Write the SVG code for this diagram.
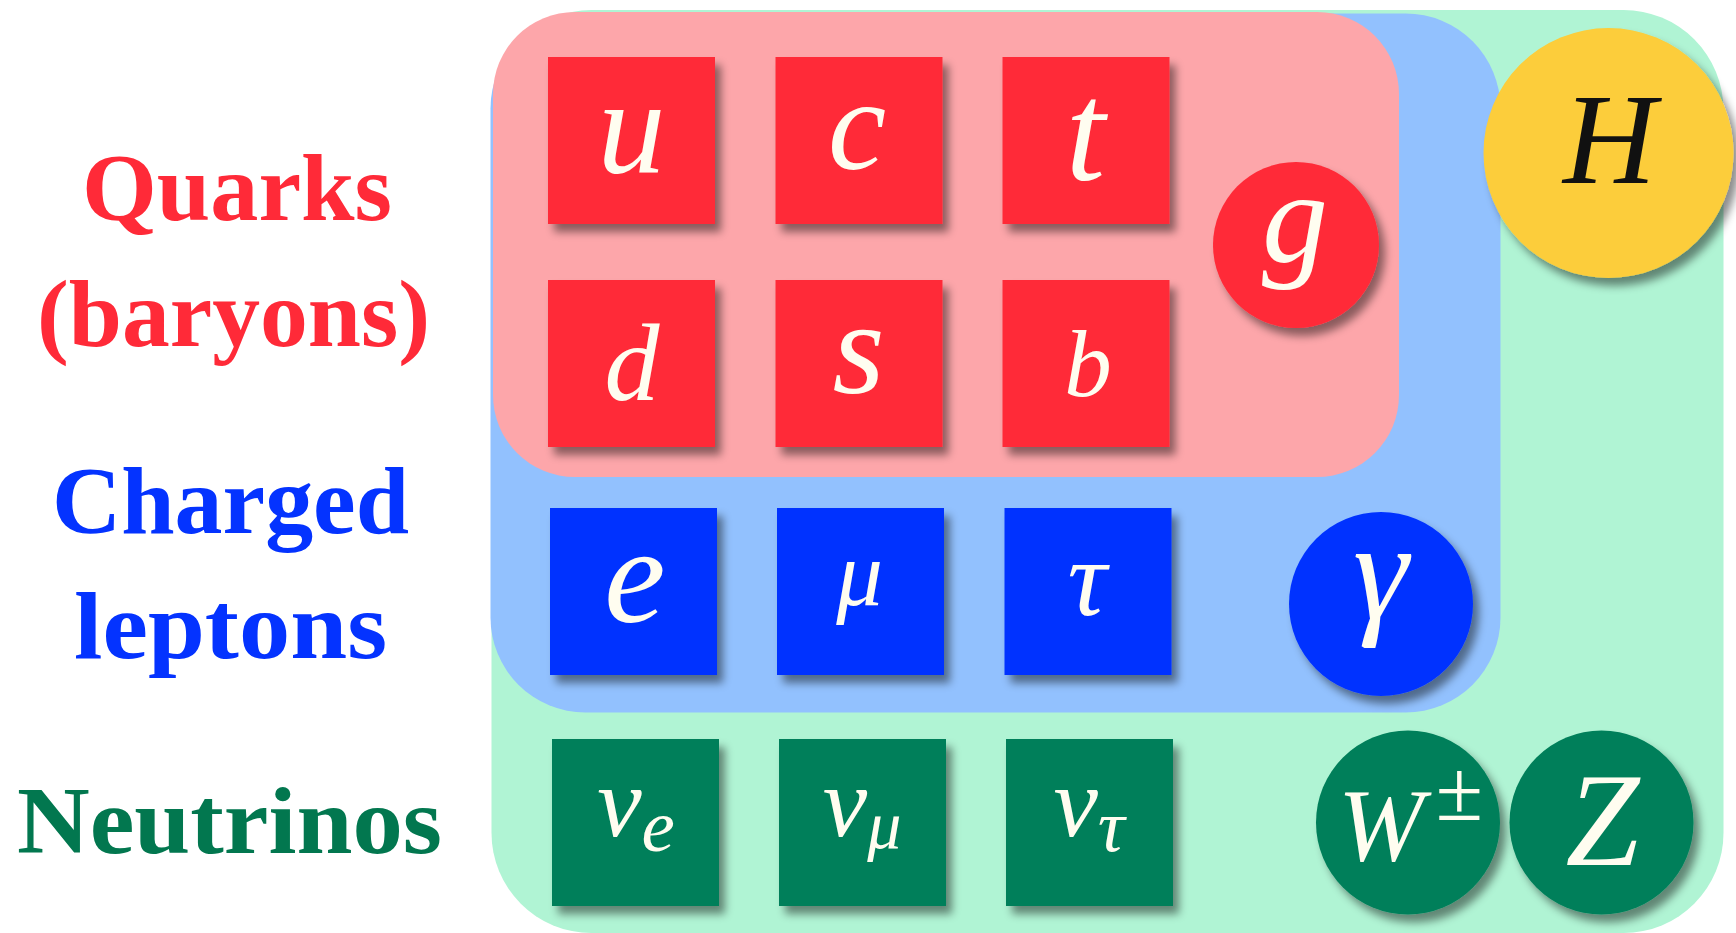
<svg xmlns="http://www.w3.org/2000/svg" width="1736" height="933" viewBox="0 0 1736 933">
<defs>
<filter id="sh" x="-20%" y="-20%" width="150%" height="150%">
<feDropShadow dx="6" dy="8" stdDeviation="4" flood-color="#000" flood-opacity="0.45"/>
</filter>
<style>
.lbl{font-family:"Liberation Serif","DejaVu Serif",serif;font-weight:bold;font-size:96px}
.sym{font-family:"Liberation Serif","DejaVu Serif",serif;font-style:italic;fill:#FFFDF0;text-anchor:middle}
.red{fill:#FF2A38;filter:url(#sh)}
.blu{fill:#0433FF;filter:url(#sh)}
.grn{fill:#017F5A;filter:url(#sh)}
.yel{fill:#FCCD3A;filter:url(#sh)}
</style>
</defs>
<rect width="1736" height="933" fill="#fff"/>
<g id="regions">
<rect id="region-green" x="491.5" y="10" width="1232" height="923" rx="100" ry="100" fill="#B0F4D4"/>
<rect id="region-blue" x="490.5" y="13.5" width="1010" height="699" rx="95" ry="95" fill="#92C1FE"/>
<rect id="region-pink" x="493" y="12" width="906" height="465" rx="82" ry="82" fill="#FDA6AA"/>
</g>
<g id="labels">
<text class="lbl" x="82" y="220" fill="#FF2A38" textLength="310" lengthAdjust="spacingAndGlyphs">Quarks</text>
<text class="lbl" x="37" y="346" fill="#FF2A38" textLength="393" lengthAdjust="spacingAndGlyphs">(baryons)</text>
<text class="lbl" x="52" y="533" fill="#0433FF" textLength="357" lengthAdjust="spacingAndGlyphs">Charged</text>
<text class="lbl" x="74" y="658" fill="#0433FF" textLength="313" lengthAdjust="spacingAndGlyphs">leptons</text>
<text class="lbl" x="17" y="853" fill="#02774F" textLength="425" lengthAdjust="spacingAndGlyphs">Neutrinos</text>
</g>
<g id="connectors"/>
<g id="node-u"><rect class="red" x="548" y="57" width="167" height="167"/><text class="sym" x="631.5" y="172" font-size="136">u</text></g>
<g id="node-c"><rect class="red" x="775.5" y="57" width="167" height="167"/><text class="sym" x="857" y="169" font-size="131">c</text></g>
<g id="node-t"><rect class="red" x="1002.5" y="57" width="167" height="167"/><text class="sym" x="1085.5" y="180" font-size="142">t</text></g>
<g id="node-d"><rect class="red" x="548" y="280" width="167" height="167"/><text class="sym" x="632" y="400" font-size="110">d</text></g>
<g id="node-s"><rect class="red" x="775.5" y="280" width="167" height="167"/><text class="sym" x="858.5" y="393" font-size="134">s</text></g>
<g id="node-b"><rect class="red" x="1002.5" y="280" width="167" height="167"/><text class="sym" x="1088" y="395.5" font-size="95">b</text></g>
<g id="node-g"><circle class="red" cx="1296" cy="245" r="83"/><text class="sym" x="1295" y="262" font-size="132">g</text></g>
<g id="node-H"><circle class="yel" cx="1608.5" cy="153" r="125"/><text class="sym" x="1609.5" y="183" font-size="129" style="fill:#111">H</text></g>
<g id="node-e"><rect class="blu" x="550" y="508" width="167" height="167"/><text class="sym" x="635" y="622" font-size="138">e</text></g>
<g id="node-mu"><rect class="blu" x="777" y="508" width="167" height="167"/><text class="sym" x="859.5" y="605" font-size="93">μ</text></g>
<g id="node-tau"><rect class="blu" x="1004.5" y="508" width="167" height="167"/><text class="sym" x="1087" y="615" font-size="109">τ</text></g>
<g id="node-gamma"><circle class="blu" cx="1381" cy="604" r="92"/><text class="sym" x="1380.5" y="618" font-size="140">γ</text></g>
<g id="node-nue"><rect class="grn" x="552" y="739" width="167" height="167"/><text class="sym" x="636" y="836" font-size="100">ν<tspan font-size="75" dy="15">e</tspan></text></g>
<g id="node-numu"><rect class="grn" x="779" y="739" width="167" height="167"/><text class="sym" x="862" y="836" font-size="100">ν<tspan font-size="68" dy="12">μ</tspan></text></g>
<g id="node-nutau"><rect class="grn" x="1006" y="739" width="167" height="167"/><text class="sym" x="1089" y="836" font-size="100">ν<tspan font-size="75" dy="15">τ</tspan></text></g>
<g id="node-W"><circle class="grn" cx="1408" cy="822.5" r="92"/><text class="sym" x="1338" y="860" font-size="103" style="text-anchor:start">W<tspan font-size="86" font-style="normal" dx="12" dy="-40">±</tspan></text></g>
<g id="node-Z"><circle class="grn" cx="1601.5" cy="822.5" r="92"/><text class="sym" x="1602.5" y="865" font-size="133">Z</text></g>
</svg>
